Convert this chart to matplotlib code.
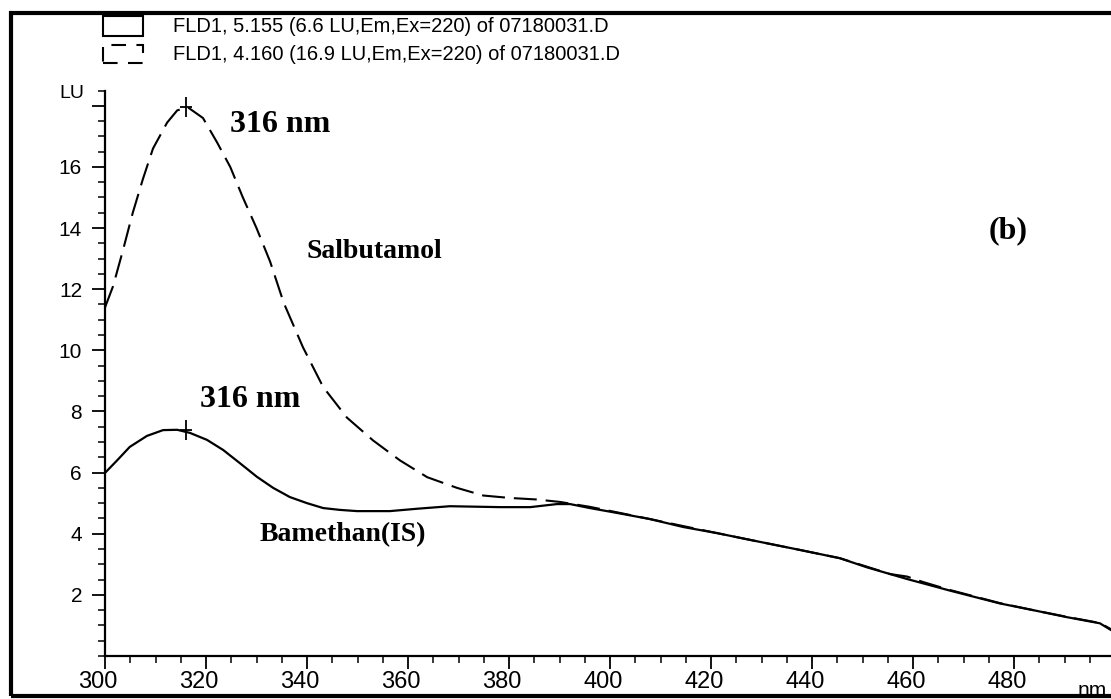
import matplotlib
matplotlib.use('Agg')
import matplotlib.pyplot as plt
import matplotlib.transforms as mtransforms
from matplotlib.patches import Rectangle
from matplotlib.ticker import FixedLocator, MultipleLocator

# emission spectra (wavelength in nm, intensity in LU)
wl_salbutamol = [300, 301.6, 303.6, 305.5, 307.5, 309.5, 312.3, 314.3, 316.4, 319.4,
                 322.2, 324.8, 327.3, 330.0, 332.7, 335.4, 339.2, 343.2, 347.9, 353.1,
                 358.4, 363.8, 369.7, 374.9, 380.2, 385.5, 390.1, 396.0, 401.4, 407.9,
                 414.5, 421.2, 427.7, 437.6, 445.5, 450.9, 455.5, 458.8, 462.0, 467.3,
                 477.2, 483.8, 490.5, 497.0, 499.5]
lu_salbutamol = [11.4, 12.1, 13.3, 14.5, 15.6, 16.6, 17.45, 17.85, 17.95, 17.6,
                 16.8, 16.0, 15.0, 14.0, 12.9, 11.55, 10.1, 8.8, 7.8, 7.05,
                 6.4, 5.85, 5.5, 5.25, 5.17, 5.12, 5.04, 4.88, 4.7, 4.48,
                 4.25, 4.02, 3.8, 3.47, 3.2, 2.92, 2.68, 2.6, 2.42, 2.16,
                 1.73, 1.5, 1.28, 1.08, 0.85]

wl_bamethan = [300, 302.4, 304.9, 308.3, 311.5, 314.3, 316.8, 320.2, 323.4, 326.7,
               330.1, 333.3, 336.6, 340.0, 343.2, 346.5, 349.9, 356.4, 362.0, 368.3,
               378.2, 384.2, 389.5, 392.1, 396.0, 401.4, 407.9, 414.5, 421.2, 427.7,
               437.6, 445.5, 450.9, 458.8, 467.3, 477.2, 483.8, 490.5, 497.0, 499.5]
lu_bamethan = [5.99, 6.4, 6.84, 7.2, 7.39, 7.4, 7.3, 7.07, 6.74, 6.31,
               5.86, 5.5, 5.2, 5.0, 4.84, 4.78, 4.74, 4.74, 4.82, 4.9,
               4.87, 4.87, 4.97, 4.97, 4.84, 4.68, 4.48, 4.22, 4.02, 3.8,
               3.47, 3.2, 2.9, 2.52, 2.14, 1.72, 1.5, 1.27, 1.07, 0.82]

peak_wl = [316, 316]
peak_lu = [17.95, 7.38]

legend_lines = ['FLD1, 5.155 (6.6 LU,Em,Ex=220) of 07180031.D',
                'FLD1, 4.160 (16.9 LU,Em,Ex=220) of 07180031.D']

y_ticks = [2, 4, 6, 8, 10, 12, 14, 16, 18]
y_labels = ['2', '4', '6', '8', '10', '12', '14', '16', '']
x_ticks = [300, 320, 340, 360, 380, 400, 420, 440, 460, 480]

W, H = 1111, 699
SANS = ['Liberation Sans', 'DejaVu Sans']
SERIF = ['Liberation Serif', 'DejaVu Serif']


def fx(px):
    return px / W


def fy(py):
    return 1 - py / H


fig = plt.figure(figsize=(W / 100, H / 100), dpi=100)
ax = fig.add_axes([fx(105), fy(656), 1010 / W, (656 - 90.5) / H])

solid, = ax.plot(wl_bamethan, lu_bamethan, color='black', lw=1.6)
dashed, = ax.plot(wl_salbutamol, lu_salbutamol, color='black', lw=1.5)
dashed.set_dashes((11, 4.3))

for wl, lu in zip(peak_wl, peak_lu):
    ax.plot(wl, lu, marker='|', ms=15, mew=1.3, color='black')
    ax.plot(wl, lu, marker='_', ms=9, mew=1.3, color='black')

ax.set_xlim(300, 500)
ax.set_ylim(0, 18.5)
for side in ('top', 'right'):
    ax.spines[side].set_visible(False)
for side in ('left', 'bottom'):
    ax.spines[side].set_linewidth(1.6)

ax.xaxis.set_major_locator(FixedLocator(x_ticks))
ax.xaxis.set_minor_locator(MultipleLocator(5))
ax.yaxis.set_major_locator(FixedLocator(y_ticks))
ax.yaxis.set_minor_locator(MultipleLocator(0.5))
ax.set_yticklabels(y_labels)
ax.set_xticklabels([str(v) for v in x_ticks])
ax.tick_params(which='major', direction='out', length=9.5, width=1.3)
ax.tick_params(which='minor', direction='out', length=5, width=1.1)
ax.tick_params(axis='x', which='major', pad=1)
ax.tick_params(axis='y', which='major', pad=7)
for lab in ax.get_xticklabels():
    lab.set_family(SANS)
    lab.set_fontsize(17)
    lab.set_transform(lab.get_transform() +
                      mtransforms.ScaledTranslation(-0.07, 0, fig.dpi_scale_trans))
for lab in ax.get_yticklabels():
    lab.set_family(SANS)
    lab.set_fontsize(15)

fig.text(fx(72), fy(94), 'LU', ha='center', va='center', family=SANS, fontsize=14)
fig.text(fx(1092), fy(690), 'nm', ha='center', va='center', family=SANS, fontsize=15)

# peak and compound annotations
lab_kw = dict(family=SERIF, weight='bold', color='black', va='baseline')
ax.text(324.8, 17.14, f'{peak_wl[0]} nm', fontsize=23, **lab_kw)
ax.text(340.0, 13.02, 'Salbutamol', fontsize=20, **lab_kw)
ax.text(318.8, 8.15, f'{peak_wl[1]} nm', fontsize=23, **lab_kw)
ax.text(330.7, 3.75, 'Bamethan(IS)', fontsize=20, **lab_kw)
ax.text(474.9, 13.67, '(b)', fontsize=23, **lab_kw)

# instrument legend above the plot
fig.add_artist(Rectangle((fx(103), fy(36)), 40 / W, 20 / H, transform=fig.transFigure,
                         fill=False, lw=1.5, color='black'))
fig.add_artist(Rectangle((fx(103), fy(63)), 40 / W, 18 / H, transform=fig.transFigure,
                         fill=False, lw=1.5, color='black', ls=(0, (7, 5))))
fig.text(fx(173), fy(27), legend_lines[0], va='center', family=SANS, fontsize=14.5)
fig.text(fx(173), fy(54), legend_lines[1], va='center', family=SANS, fontsize=14.5)

# outer frame
fig.add_artist(Rectangle((fx(11), fy(696)), 1.2, (696 - 13) / H, transform=fig.transFigure,
                         fill=False, lw=3, color='black', clip_on=False))

fig.savefig('out.png', dpi=100)
